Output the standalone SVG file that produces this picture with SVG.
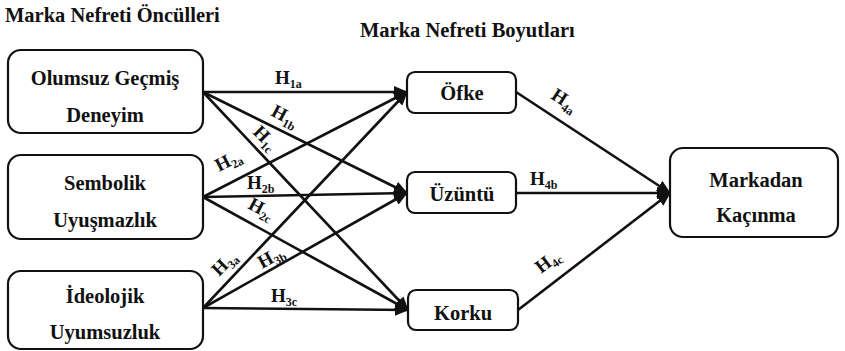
<svg xmlns="http://www.w3.org/2000/svg" width="845" height="351" viewBox="0 0 845 351">
  <style>
    text { font-family: "Liberation Serif", "Times New Roman", serif; font-weight: bold; fill: #111; }
    .title { font-size: 20.5px; }
    .node rect { fill: #fff; stroke: #111; stroke-width: 2.2; }
    .lbl { font-size: 20.5px; text-anchor: middle; }
    .h { font-size: 19px; }
    .h tspan { font-size: 12px; }
    .edges line { stroke: #111; stroke-width: 2.6; }
  </style>
  <defs>
    <marker id="arrow" markerUnits="userSpaceOnUse" markerWidth="14" markerHeight="12" refX="13" refY="6" orient="auto">
      <path d="M0,0 L14,6 L0,12 z" fill="#111"/>
    </marker>
  </defs>
  <rect width="845" height="351" fill="#fff"/>

  <text class="title" x="5" y="22">Marka Nefreti Öncülleri</text>
  <text class="title" x="360" y="37">Marka Nefreti Boyutları</text>

  <!-- connectors -->
  <g id="connectors" class="edges">
    <line x1="203" y1="92" x2="407" y2="92" marker-end="url(#arrow)"/>
    <line x1="203" y1="92" x2="407" y2="193" marker-end="url(#arrow)"/>
    <line x1="203" y1="92" x2="408" y2="310" marker-end="url(#arrow)"/>
    <line x1="203" y1="197" x2="407" y2="92" marker-end="url(#arrow)"/>
    <line x1="203" y1="197" x2="407" y2="193" marker-end="url(#arrow)"/>
    <line x1="203" y1="197" x2="408" y2="310" marker-end="url(#arrow)"/>
    <line x1="203" y1="308" x2="407" y2="92" marker-end="url(#arrow)"/>
    <line x1="203" y1="308" x2="407" y2="193" marker-end="url(#arrow)"/>
    <line x1="203" y1="308" x2="408" y2="310" marker-end="url(#arrow)"/>
    <line x1="516" y1="92" x2="670" y2="193" marker-end="url(#arrow)"/>
    <line x1="516" y1="193" x2="670" y2="193" marker-end="url(#arrow)"/>
    <line x1="518" y1="310" x2="670" y2="193" marker-end="url(#arrow)"/>
  </g>

  <!-- hypothesis labels -->
  <g id="edge-labels">
    <text class="h" x="275" y="84">H<tspan dy="4">1a</tspan></text>
    <text class="h" x="270" y="115" transform="rotate(28 270 115)">H<tspan dy="4">1b</tspan></text>
    <text class="h" x="252" y="133" transform="rotate(45 252 133)">H<tspan dy="4">1c</tspan></text>
    <text class="h" x="219" y="172" transform="rotate(-27 219 172)">H<tspan dy="4">2a</tspan></text>
    <text class="h" x="247" y="189">H<tspan dy="4">2b</tspan></text>
    <text class="h" x="247" y="208" transform="rotate(28 247 208)">H<tspan dy="4">2c</tspan></text>
    <text class="h" x="219" y="277" transform="rotate(-45 219 277)">H<tspan dy="4">3a</tspan></text>
    <text class="h" x="262" y="269" transform="rotate(-29 262 269)">H<tspan dy="4">3b</tspan></text>
    <text class="h" x="271" y="302">H<tspan dy="4">3c</tspan></text>
    <text class="h" x="550" y="98" transform="rotate(33 550 98)">H<tspan dy="4">4a</tspan></text>
    <text class="h" x="530" y="185">H<tspan dy="4">4b</tspan></text>
    <text class="h" x="541" y="274" transform="rotate(-37 541 274)">H<tspan dy="4">4c</tspan></text>
  </g>

  <!-- antecedents -->
  <g id="node-olumsuz" class="node">
    <rect x="8" y="50" width="195" height="83" rx="13"/>
    <text class="lbl" x="105" y="85">Olumsuz Geçmiş</text>
    <text class="lbl" x="105" y="122">Deneyim</text>
  </g>
  <g id="node-sembolik" class="node">
    <rect x="8" y="155" width="195" height="84" rx="13"/>
    <text class="lbl" x="105" y="190">Sembolik</text>
    <text class="lbl" x="105" y="227">Uyuşmazlık</text>
  </g>
  <g id="node-ideolojik" class="node">
    <rect x="8" y="271" width="195" height="78" rx="13"/>
    <text class="lbl" x="105" y="303">İdeolojik</text>
    <text class="lbl" x="105" y="339">Uyumsuzluk</text>
  </g>

  <!-- dimensions -->
  <g id="node-ofke" class="node">
    <rect x="407" y="72" width="109" height="41" rx="8"/>
    <text class="lbl" x="462" y="100">Öfke</text>
  </g>
  <g id="node-uzuntu" class="node">
    <rect x="407" y="172" width="109" height="41" rx="8"/>
    <text class="lbl" x="462" y="201">Üzüntü</text>
  </g>
  <g id="node-korku" class="node">
    <rect x="408" y="290" width="110" height="40" rx="8"/>
    <text class="lbl" x="463" y="320">Korku</text>
  </g>

  <!-- outcome -->
  <g id="node-kacinma" class="node">
    <rect x="670" y="148" width="168" height="89" rx="13"/>
    <text class="lbl" x="756" y="187">Markadan</text>
    <text class="lbl" x="756" y="222">Kaçınma</text>
  </g>
</svg>
